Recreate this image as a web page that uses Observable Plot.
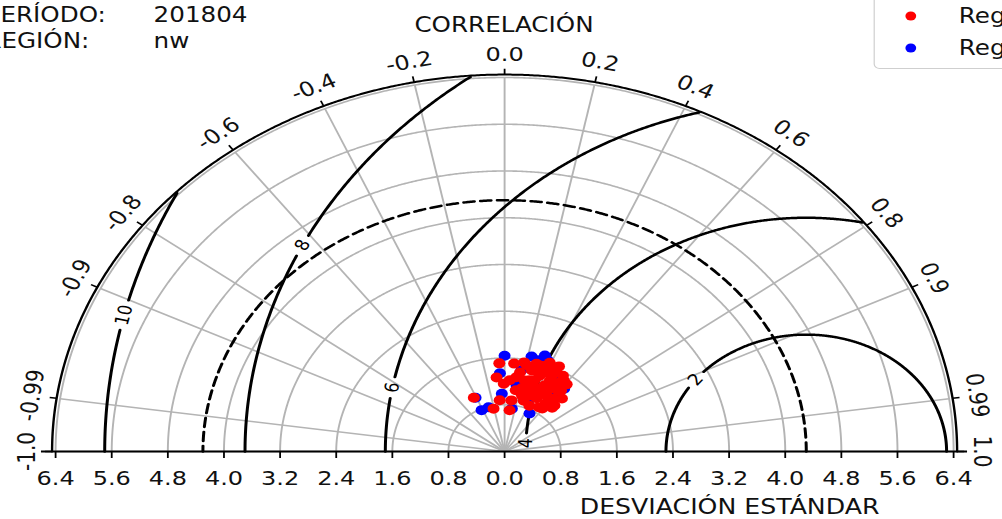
<!DOCTYPE html>
<html><head><meta charset="utf-8">
<script src="https://cdn.jsdelivr.net/npm/d3@7"></script>
<script src="https://cdn.jsdelivr.net/npm/@observablehq/plot@0.6"></script>
<style>
html,body{margin:0;padding:0;background:#fff;overflow:hidden;}
#wrap{position:relative;width:835px;height:519px;transform:scaleX(1.2);transform-origin:0 0;overflow:hidden;font-family:"DejaVu Sans",sans-serif;color:#111;}
#chart{position:absolute;left:0;top:0;}
.t{position:absolute;white-space:nowrap;line-height:1;transform:translateY(-50%);}
.c{transform:translate(-50%,-50%);}
.legend{position:absolute;left:728px;top:-10px;width:200px;height:77px;border:1px solid #cfcfcf;border-radius:5px;background:rgba(255,255,255,0.85);}
.sw{position:absolute;width:9px;height:9px;border-radius:50%;transform:translate(-50%,-50%);}
</style></head><body>
<div id="wrap">
  <div id="chart"></div>
  <div class="t" style="left:-12px;top:15px;font-size:20.5px">PERÍODO:</div>
  <div class="t" style="left:128px;top:15px;font-size:20.5px" id="periodo"></div>
  <div class="t" style="left:-13px;top:41px;font-size:20.5px">REGIÓN:</div>
  <div class="t" style="left:128px;top:41px;font-size:20.5px" id="region"></div>
  <div class="t c" style="left:420px;top:25px;font-size:20.5px">CORRELACIÓN</div>
  <div class="t c" style="left:608px;top:507px;font-size:21px">DESVIACIÓN ESTÁNDAR</div>
  <div class="legend">
    <span class="sw" style="left:30px;top:25px;background:#ff0000"></span>
    <div class="t" style="left:70px;top:25px;font-size:20.5px" id="lg1"></div>
    <span class="sw" style="left:30px;top:57px;background:#0000ff"></span>
    <div class="t" style="left:70px;top:57px;font-size:20.5px" id="lg2"></div>
  </div>
</div>
<script>
// ---- data ----
const periodo = "201804";
const region = "nw";
const seriesNames = ["RegCM4 (ensamble)", "RegCM4 (control)"];
const corrTicks = [-1, -0.99, -0.9, -0.8, -0.6, -0.4, -0.2, 0, 0.2, 0.4, 0.6, 0.8, 0.9, 0.99, 1];
const corrTickLabels = ["-1.0","-0.99","-0.9","-0.8","-0.6","-0.4","-0.2","0.0","0.2","0.4","0.6","0.8","0.9","0.99","1.0"];
const stdTicks = [-6.4,-5.6,-4.8,-4.0,-3.2,-2.4,-1.6,-0.8,0,0.8,1.6,2.4,3.2,4.0,4.8,5.6,6.4];
const stdGrid = [0.8,1.6,2.4,3.2,4.0,4.8,5.6,6.4];
const stdMax = 6.45;
const refStd = 4.3;
const rmsLevels = [2,4,6,8,10];
const rmsLabelAngles = [142,178,169.5,153.8,166.5];

const redStd = [1.02,1.51,1.51,1.27,1.16,1.28,0.75,0.88,0.88,0.91,1.01,0.90,1.51,1.57,1.57,1.54,1.48,1.32,1.14,1.01,1.03,1.27,1.39,1.37,1.20,1.45,1.27,1.12,1.02,0.99,1.13,1.41,1.47,1.20,1.37,1.22,1.06,0.71,1.44,1.56,1.46,1.29,1.08,1.13,1.10,1.29,1.27,1.60,1.55,1.65,1.65,1.54,1.45,1.22,1.06,0.91,0.86,1.25,1.11];
const redCorr = [-0.43,-0.05,0.09,-0.09,-0.01,0.13,-0.21,-0.08,0.11,0.30,0.67,0.54,0.21,0.29,0.38,0.48,0.57,0.61,0.61,0.58,0.37,0.28,0.36,0.47,0.44,0.30,0.53,0.28,0.45,0.25,0.53,0.55,0.39,0.34,0.16,0.06,0.15,0.10,0.27,0.34,0.46,0.59,0.58,0.44,0.31,0.33,0.45,0.44,0.18,0.39,0.47,0.54,0.61,0.67,0.67,0.59,0.41,0.23,0.22];
const blueStd = [1.64,1.67,1.74,1.63,1.34,1.41,1.37,1.49,0.99,0.79,0.74,0.74,1.01,0.78,1.21,1.67,1.14,0.97];
const blueCorr = [0.00,0.23,0.33,0.29,-0.05,0.17,0.62,0.53,-0.04,-0.29,0.14,0.48,-0.41,-0.42,0.61,0.37,0.15,0.37];

document.getElementById("periodo").textContent = periodo;
document.getElementById("region").textContent = region;
document.getElementById("lg1").textContent = seriesNames[0];
document.getElementById("lg2").textContent = seriesNames[1];

// ---- derived geometry ----
const rad = Math.PI / 180;
const angles = d3.range(0, 180.001, 0.25);
const arcPts = (r) => angles.map(a => ({r, x: r * Math.cos(a * rad), y: r * Math.sin(a * rad)}));
const gridArcs = stdGrid.flatMap(arcPts);
const outerArc = arcPts(stdMax);
const refArc = arcPts(refStd);

const contour = [];
rmsLevels.forEach((R, i) => {
  const la = rmsLabelAngles[i];
  const half = (R >= 10 ? 0.25 : 0.17) / R / rad;
  let seg = 0, prev = false;
  for (const a of angles) {
    const x = refStd + R * Math.cos(a * rad), y = R * Math.sin(a * rad);
    const ok = Math.hypot(x, y) <= stdMax - 0.01 && Math.abs(a - la) > half;
    if (ok) { if (!prev) seg++; contour.push({x, y, k: R + "-" + seg}); }
    prev = ok;
  }
});
const contourLabels = rmsLevels.map((R, i) => {
  const a = rmsLabelAngles[i] * rad;
  let rot = Math.atan2(-Math.cos(a), -Math.sin(a)) / rad;
  if (rot > 90) rot -= 180; if (rot < -90) rot += 180;
  return {x: refStd + R * Math.cos(a), y: R * Math.sin(a), text: String(R), rot};
});

const toXY = (s, c) => ({x: s * c, y: s * Math.sqrt(1 - c * c)});
const blue = blueStd.map((s, i) => toXY(s, blueCorr[i]));
const red = redStd.map((s, i) => toXY(s, redCorr[i]));
const sinC = c => Math.sqrt(Math.max(0, 1 - c * c));

const W = 835, H = 519;
const plot = Plot.plot({
  width: W, height: H,
  marginLeft: 45.83, marginRight: 40.83, marginTop: 77, marginBottom: 68,
  x: {domain: [-6.4, 6.4], axis: null},
  y: {domain: [0, 6.4], axis: null},
  style: {fontFamily: "DejaVu Sans", color: "#111", background: "transparent", overflow: "visible"},
  marks: [
    Plot.line(gridArcs, {x: "x", y: "y", z: "r", stroke: "#b4b4b4", strokeWidth: 1.6}),
    Plot.link(corrTicks, {x1: 0, y1: 0, x2: c => 6.4 * c, y2: c => 6.4 * sinC(c), stroke: "#b4b4b4", strokeWidth: 1.6}),
    Plot.line(refArc, {x: "x", y: "y", stroke: "#000", strokeWidth: 2.5, strokeDasharray: "9,5"}),
    Plot.line(contour, {x: "x", y: "y", z: "k", stroke: "#000", strokeWidth: 2.5}),
    Plot.text(contourLabels, {x: "x", y: "y", text: "text", rotate: "rot", fontSize: 16, fill: "#000", textAnchor: "middle", lineAnchor: "middle"}),
    Plot.line(outerArc, {x: "x", y: "y", stroke: "#000", strokeWidth: 2}),
    Plot.ruleY([0], {x1: -6.6, x2: 6.6, stroke: "#000", strokeWidth: 2}),
    Plot.ruleX(stdTicks, {x: d => d, y1: 0, y2: -0.12, stroke: "#000", strokeWidth: 1.5}),
    Plot.text(stdTicks, {x: d => d, y: 0, dy: 27, text: d => Math.abs(d).toFixed(1), fontSize: 20, lineAnchor: "middle"}),
    Plot.link(corrTicks, {x1: c => stdMax * c, y1: c => stdMax * sinC(c), x2: c => (stdMax + 0.1) * c, y2: c => (stdMax + 0.1) * sinC(c), stroke: "#000", strokeWidth: 1.5}),
    Plot.text(corrTicks, {x: c => 6.8 * c, y: c => 6.8 * sinC(c), text: (c, i) => corrTickLabels[i], rotate: c => 90 - Math.acos(c) / rad, fontSize: 20, textAnchor: "middle", lineAnchor: "middle"}),
    Plot.dot(blue, {x: "x", y: "y", r: 5, fill: "#0000ff", stroke: "none"}),
    Plot.dot(red, {x: "x", y: "y", r: 5, fill: "#ff0000", stroke: "none"})
  ]
});
document.getElementById("chart").appendChild(plot);
</script>
</body></html>
